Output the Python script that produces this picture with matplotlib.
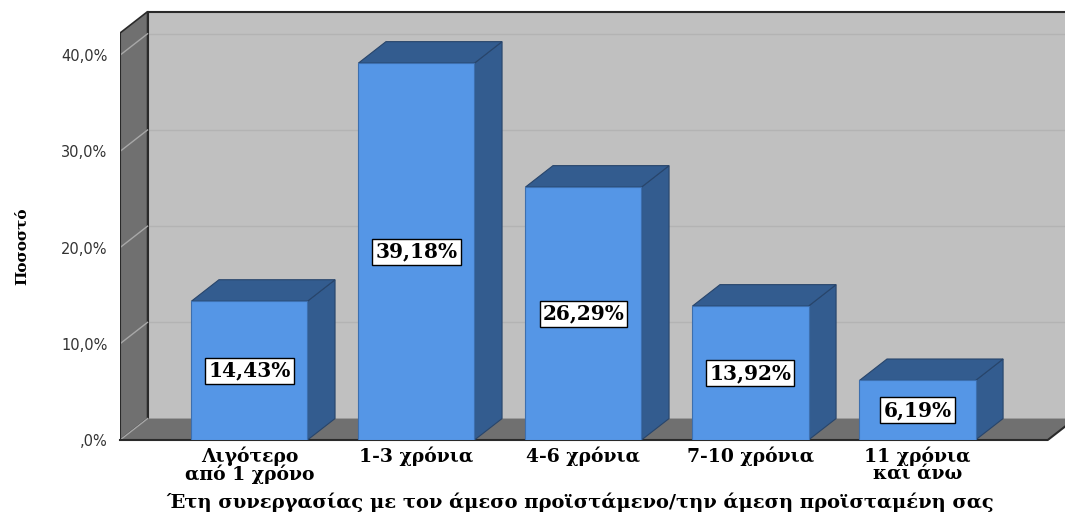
import matplotlib.pyplot as plt
from matplotlib.patches import Polygon, Rectangle

# Έτη συνεργασίας με τον άμεσο προϊστάμενο - ποσοστά
categories = ['Λιγότερο\nαπό 1 χρόνο', '1-3 χρόνια', '4-6 χρόνια',
              '7-10 χρόνια', '11 χρόνια\nκαι άνω']
percents = [14.43, 39.18, 26.29, 13.92, 6.19]
yticks = [0, 10, 20, 30, 40]
ytick_labels = [',0%', '10,0%', '20,0%', '30,0%', '40,0%']

FRONT = '#5596e6'
SIDE = '#335c8f'
WALL = '#c0c0c0'
DARK = '#707070'
EDGE = '#2a2a2a'

# pseudo-3D depth offsets (data units)
dx, dy = 0.165, 2.23
bw = 0.695
x0 = -0.775          # front-left corner of the box
xf = 4.78            # front-right corner of the floor
zmax = 42.3

fig = plt.figure(figsize=(10.65, 5.15), dpi=100)
ax = fig.add_axes([120 / 1065, 75 / 515, 945 / 1065, 440 / 515])
ax.set_xlim(x0, (1065 - 249.5) / 167)
ax.set_ylim(0, 440 / 9.62)
ax.patch.set_visible(False)
for s in ax.spines.values():
    s.set_visible(False)

# back wall
ax.add_patch(Rectangle((x0 + dx, dy), 10, zmax, fc=WALL, ec='none', zorder=0))
ax.plot([x0 + dx, 10], [zmax + dy, zmax + dy], color=EDGE, lw=1.5, zorder=1)
ax.plot([x0 + dx, x0 + dx], [dy, zmax + dy], color=EDGE, lw=1.5, zorder=1)
for t in yticks[1:]:
    ax.plot([x0 + dx, 10], [t + dy, t + dy], color='#b3b3b3', lw=1, zorder=0.5)

# left wall
ax.add_patch(Polygon([(x0, 0), (x0, zmax), (x0 + dx, zmax + dy), (x0 + dx, dy)],
                     closed=True, fc=DARK, ec=EDGE, lw=1.2, zorder=1))
for t in yticks:
    ax.plot([x0, x0 + dx], [t, t + dy], color='#a8a8a8', lw=1, zorder=1.5)

# floor
ax.add_patch(Polygon([(x0, 0), (xf, 0), (xf + dx, dy), (x0 + dx, dy)],
                     closed=True, fc=DARK, ec='none', zorder=1))
ax.plot([x0, xf, xf + dx], [0, 0, dy], color=EDGE, lw=1.5, zorder=1.6, clip_on=False)
ax.plot([x0, x0], [0, zmax], color=EDGE, lw=1.5, zorder=1.6)

# bars
for i, v in enumerate(percents):
    l, r = i - bw / 2, i + bw / 2
    ax.add_patch(Polygon([(r, 0), (r + dx, dy), (r + dx, v + dy), (r, v)],
                         closed=True, fc=SIDE, ec='#28456b', lw=0.8, zorder=3))
    ax.add_patch(Polygon([(l, v), (l + dx, v + dy), (r + dx, v + dy), (r, v)],
                         closed=True, fc=SIDE, ec='#28456b', lw=0.8, zorder=3))
    ax.add_patch(Rectangle((l, 0), bw, v, fc=FRONT, ec='#3d6fae', lw=0.8, zorder=4))
    ax.text(i, v / 2, f'{v:.2f}%'.replace('.', ','), ha='center', va='center',
            family='DejaVu Serif', fontweight='bold', fontsize=14.5, zorder=5,
            bbox=dict(boxstyle='square,pad=0.15', fc='white', ec='black', lw=1))

ax.set_yticks(yticks)
ax.set_yticklabels(ytick_labels, family='DejaVu Sans', fontsize=10.5, color='#333333')
ax.set_xticks(range(len(categories)))
ax.set_xticklabels(categories, family='DejaVu Serif', fontweight='bold',
                   fontsize=13.5, linespacing=0.9)
ax.tick_params(axis='y', length=0, pad=9)
ax.tick_params(axis='x', length=0, pad=5)

fig.text(0.021, 0.522, 'Ποσοστό', rotation=90, ha='center', va='center',
         family='DejaVu Serif', fontweight='bold', fontsize=11)
fig.text(0.545, 0.025, 'Έτη συνεργασίας με τον άμεσο προϊστάμενο/την άμεση προϊσταμένη σας',
         ha='center', va='center', family='DejaVu Serif', fontweight='bold', fontsize=14)

fig.savefig('out.png', dpi=100)
